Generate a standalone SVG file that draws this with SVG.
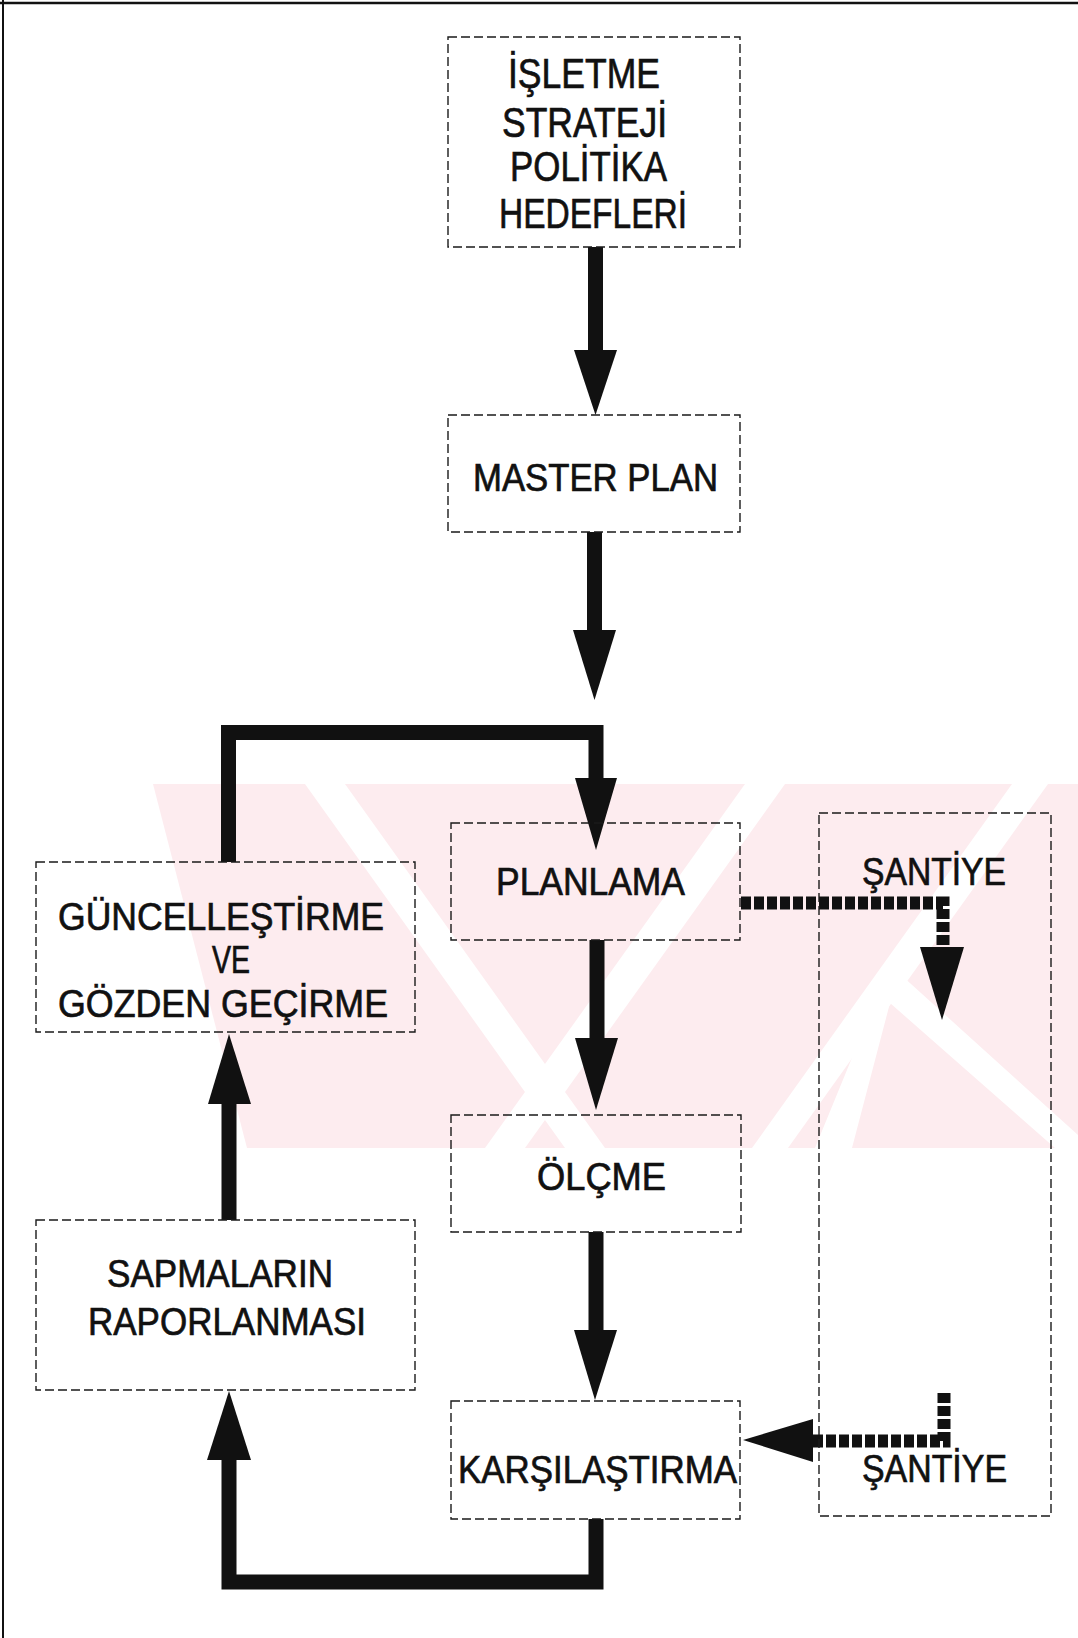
<svg xmlns="http://www.w3.org/2000/svg" width="1078" height="1638" viewBox="0 0 1078 1638">
  <style>
    .box { fill: none; stroke: #1a1a1a; stroke-width: 1.4; stroke-dasharray: 9 4; }
    .lbl { font-family: "Liberation Sans", Arial, "Noto Sans", sans-serif; font-size: 38px; fill: #111; stroke: #111; stroke-width: 0.7; }
    .big { font-size: 42px; }
    .flow { fill: none; stroke: #111; stroke-width: 15; stroke-linejoin: miter; stroke-linecap: butt; }
    .dots { fill: none; stroke: #111; stroke-width: 13; stroke-dasharray: 10 3; stroke-linecap: butt; }
    .head { fill: #111; }
    .wm { fill: #fdecef; }
    .wmgap { fill: #ffffff; }
  </style>
  <defs>
    <clipPath id="band">
      <polygon points="153,784 1078,784 1078,1148 247,1148"/>
    </clipPath>
  </defs>

  <rect x="0" y="0" width="1078" height="1638" fill="#ffffff"/>

  <!-- faint striped emblem behind the lower flow -->
  <g id="emblem" clip-path="url(#band)">
    <rect class="wm" x="150" y="784" width="928" height="364"/>
    <polygon class="wmgap" points="305,784 345,784 605,1148 565,1148"/>
    <polygon class="wmgap" points="745,784 785,784 525,1148 485,1148"/>
    <polygon class="wmgap" points="1012,784 1048,784 788,1148 752,1148"/>
    <polygon class="wmgap" points="890,965 1078,1135 1078,1148 1055,1148 890,1003 852,1148 815,1148"/>
  </g>

  <!-- page frame -->
  <line x1="0" y1="3" x2="1078" y2="3" stroke="#111" stroke-width="2.5"/>
  <line x1="3" y1="0" x2="3" y2="1638" stroke="#111" stroke-width="2"/>

  <!-- connectors -->
  <g id="connectors">
    <path class="flow" d="M595.5 247 V352"/>
    <polygon class="head" points="574,350 617,350 595.5,415"/>

    <path class="flow" d="M594.5 532 V632"/>
    <polygon class="head" points="573,630 616,630 594.5,700"/>

    <path class="flow" d="M228.5 862 V732.5 H596 V780"/>
    <polygon class="head" points="575,778 617,778 596,850"/>

    <path class="flow" d="M597 940 V1040"/>
    <polygon class="head" points="575,1038 618,1038 596,1110"/>

    <path class="flow" d="M596 1232 V1332"/>
    <polygon class="head" points="574,1330 617,1330 595,1400"/>

    <path class="flow" d="M596 1519 V1582 H229 V1458"/>
    <polygon class="head" points="207,1460 251,1460 229,1391"/>

    <path class="flow" d="M229 1220 V1102"/>
    <polygon class="head" points="208,1104 251,1104 229,1034"/>

    <path class="dots" d="M741 903 H943 V949"/>
    <polygon class="head" points="920,947 964,947 942,1020"/>

    <path class="dots" d="M944 1393 V1441 H812"/>
    <polygon class="head" points="813,1419 813,1462 743,1440"/>
  </g>

  <g id="node-isletme">
    <rect class="box" x="448" y="37" width="292" height="210"/>
    <text class="lbl big" x="508" y="88" textLength="152" lengthAdjust="spacingAndGlyphs">İŞLETME</text>
    <text class="lbl big" x="502" y="137" textLength="165" lengthAdjust="spacingAndGlyphs">STRATEJİ</text>
    <text class="lbl big" x="510" y="181" textLength="157" lengthAdjust="spacingAndGlyphs">POLİTİKA</text>
    <text class="lbl big" x="499" y="228" textLength="188" lengthAdjust="spacingAndGlyphs">HEDEFLERİ</text>
  </g>

  <g id="node-master-plan">
    <rect class="box" x="448" y="415" width="292" height="117"/>
    <text class="lbl" x="473" y="491" textLength="245" lengthAdjust="spacingAndGlyphs">MASTER PLAN</text>
  </g>

  <g id="node-planlama">
    <rect class="box" x="451" y="823" width="289" height="117"/>
    <text class="lbl" x="496" y="895" textLength="189" lengthAdjust="spacingAndGlyphs">PLANLAMA</text>
  </g>

  <g id="node-guncelleme">
    <rect class="box" x="36" y="862" width="379" height="170"/>
    <text class="lbl" x="58" y="930" textLength="326" lengthAdjust="spacingAndGlyphs">GÜNCELLEŞTİRME</text>
    <text class="lbl" x="212" y="973" textLength="38" lengthAdjust="spacingAndGlyphs">VE</text>
    <text class="lbl" x="58" y="1017" textLength="330" lengthAdjust="spacingAndGlyphs">GÖZDEN GEÇİRME</text>
  </g>

  <g id="node-santiye">
    <rect class="box" x="819" y="813" width="232" height="703"/>
    <text class="lbl" x="862" y="885" textLength="144" lengthAdjust="spacingAndGlyphs">ŞANTİYE</text>
    <text class="lbl" x="862" y="1482" textLength="145" lengthAdjust="spacingAndGlyphs">ŞANTİYE</text>
  </g>

  <g id="node-olcme">
    <rect class="box" x="451" y="1115" width="290" height="117"/>
    <text class="lbl" x="537" y="1190" textLength="129" lengthAdjust="spacingAndGlyphs">ÖLÇME</text>
  </g>

  <g id="node-sapmalar">
    <rect class="box" x="36" y="1220" width="379" height="170"/>
    <text class="lbl" x="107" y="1287" textLength="226" lengthAdjust="spacingAndGlyphs">SAPMALARIN</text>
    <text class="lbl" x="88" y="1335" textLength="278" lengthAdjust="spacingAndGlyphs">RAPORLANMASI</text>
  </g>

  <g id="node-karsilastirma">
    <rect class="box" x="451" y="1401" width="289" height="118"/>
    <text class="lbl" x="458" y="1483" textLength="279" lengthAdjust="spacingAndGlyphs">KARŞILAŞTIRMA</text>
  </g>
</svg>
